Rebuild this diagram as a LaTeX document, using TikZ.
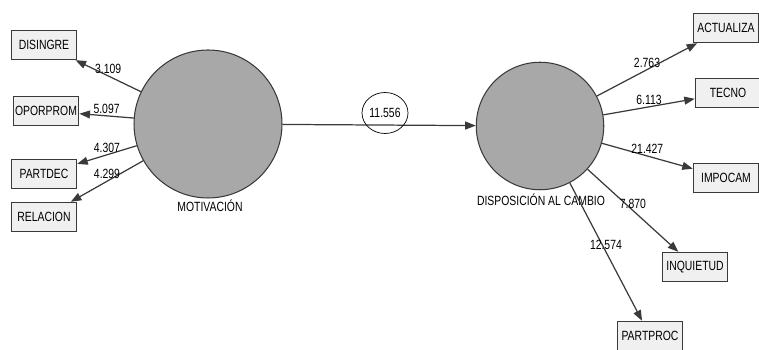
\documentclass[tikz,border=0pt]{standalone}
\usepackage{fontspec}
\setmainfont{Liberation Sans}[FakeStretch=0.78]
\usepackage{tikz}
\usetikzlibrary{arrows.meta,shapes.geometric}
\definecolor{latgray}{HTML}{A8A8A8}
\definecolor{boxgray}{HTML}{F0F0F0}
\definecolor{edgegray}{HTML}{3A3A3A}

\begin{document}
\begin{tikzpicture}[
  x=0.02cm,y=-0.02cm,
  ->,>={Triangle[length=6pt,width=4.5pt]},
  every node/.style={font=\fontsize{7.6}{8}\selectfont},
  lat/.style={draw=edgegray,circle,fill=latgray,line width=0.6pt},
  ind/.style={draw=edgegray,fill=boxgray,line width=0.8pt,minimum width=1.3cm,minimum height=0.58cm,inner sep=1pt},
  lab/.style={inner sep=1pt},
  path/.style={draw=edgegray,line width=0.7pt}
]
\useasboundingbox (0,0) rectangle (759,350);

% latent variables
\node[lat,minimum size=2.96cm] (mot) at (208,124) {};
\node[lat,minimum size=2.55cm] (disp) at (540,126) {};
\node[lab] (motlab) at (210,206) {MOTIVACIÓN};
\node[lab] (displab) at (541,200) {DISPOSICIÓN AL CAMBIO};

% indicators left
\node[ind] (disingre) at (44,45) {DISINGRE};
\node[ind] (oporprom) at (46,111) {OPORPROM};
\node[ind] (partdec) at (44,174) {PARTDEC};
\node[ind] (relacion) at (44,217) {RELACION};

% indicators right
\node[ind] (actualiza) at (726,28) {ACTUALIZA};
\node[ind] (tecno) at (728,93) {TECNO};
\node[ind] (impocam) at (726,178) {IMPOCAM};
\node[ind] (inquietud) at (695,267) {INQUIETUD};
\node[ind] (partproc) at (650,336) {PARTPROC};

\draw[path] (mot) -- node[lab,above] {3.109} (disingre);
\draw[path] (mot) -- node[lab,above] {5.097} (oporprom);
\draw[path] (mot) -- node[lab,above] {4.307} (partdec);
\draw[path] (mot) -- node[lab,above] {4.299} (relacion);

\draw[path] (mot) -- (disp);
\node[draw=black,ellipse,minimum width=0.92cm,minimum height=0.82cm,inner sep=0pt] (coef) at (385,113) {11.556};

\draw[path] (disp) -- node[lab,above] {2.763} (actualiza);
\draw[path] (disp) -- node[lab,above] {6.113} (tecno);
\draw[path] (disp) -- node[lab,above] {21.427} (impocam);
\draw[path] (disp) -- node[lab,above] {7.870} (inquietud);
\draw[path] (disp) -- node[lab,above] {12.574} (partproc);

\end{tikzpicture}
\end{document}
